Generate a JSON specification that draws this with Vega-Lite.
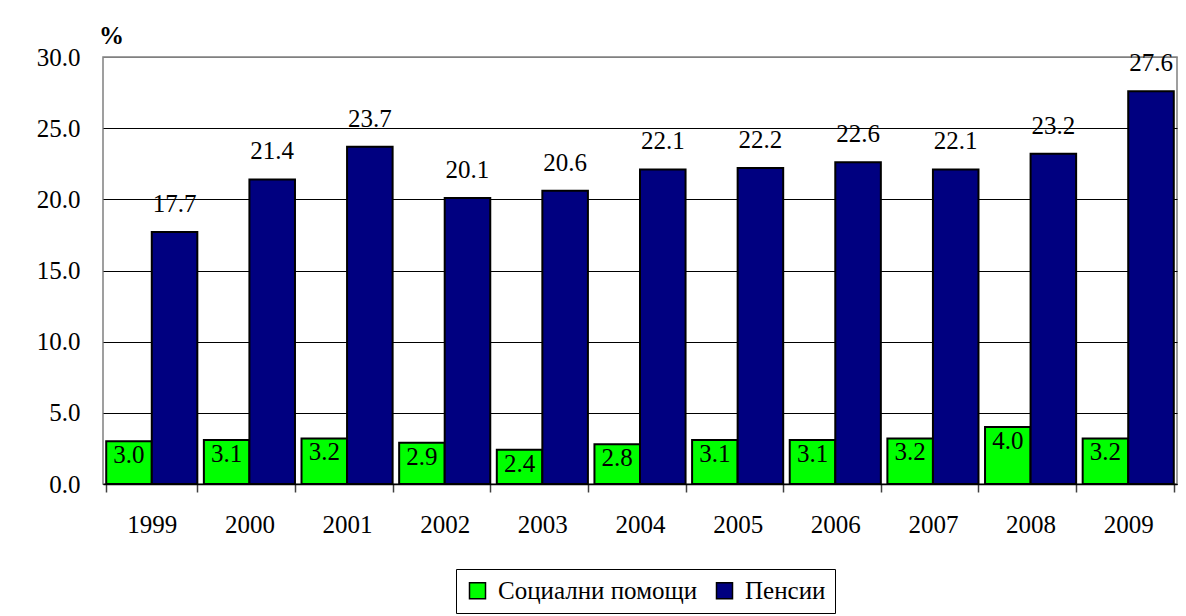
{
  "$schema": "https://vega.github.io/schema/vega-lite/v6.json",
  "autosize": "none",
  "width": 1074,
  "height": 427,
  "padding": {"left": 103, "top": 57, "right": 9, "bottom": 132},
  "background": "white",
  "config": {
    "font": "Times New Roman, Liberation Serif, serif",
    "view": {"stroke": "#808080", "strokeWidth": 1.5},
    "legend": {"strokeColor": "black", "fillColor": "white"}
  },
  "data": {
    "values": [
      {"year": "1999", "series": "Социални помощи", "value": 3.0},
      {"year": "1999", "series": "Пенсии", "value": 17.7},
      {"year": "2000", "series": "Социални помощи", "value": 3.1},
      {"year": "2000", "series": "Пенсии", "value": 21.4},
      {"year": "2001", "series": "Социални помощи", "value": 3.2},
      {"year": "2001", "series": "Пенсии", "value": 23.7},
      {"year": "2002", "series": "Социални помощи", "value": 2.9},
      {"year": "2002", "series": "Пенсии", "value": 20.1},
      {"year": "2003", "series": "Социални помощи", "value": 2.4},
      {"year": "2003", "series": "Пенсии", "value": 20.6},
      {"year": "2004", "series": "Социални помощи", "value": 2.8},
      {"year": "2004", "series": "Пенсии", "value": 22.1},
      {"year": "2005", "series": "Социални помощи", "value": 3.1},
      {"year": "2005", "series": "Пенсии", "value": 22.2},
      {"year": "2006", "series": "Социални помощи", "value": 3.1},
      {"year": "2006", "series": "Пенсии", "value": 22.6},
      {"year": "2007", "series": "Социални помощи", "value": 3.2},
      {"year": "2007", "series": "Пенсии", "value": 22.1},
      {"year": "2008", "series": "Социални помощи", "value": 4.0},
      {"year": "2008", "series": "Пенсии", "value": 23.2},
      {"year": "2009", "series": "Социални помощи", "value": 3.2},
      {"year": "2009", "series": "Пенсии", "value": 27.6}
    ]
  },
  "encoding": {
    "x": {
      "field": "year",
      "type": "nominal",
      "scale": {"paddingInner": 0.067, "paddingOuter": 0.033},
      "axis": {
        "title": null,
        "labelAngle": 0,
        "labelFont": "Times New Roman, Liberation Serif, serif",
        "labelFontSize": 25,
        "labelColor": "black",
        "labelPadding": 20,
        "tickBand": "extent",
        "tickSize": 8,
        "tickColor": "#404040",
        "tickWidth": 1.5,
        "domainColor": "black",
        "domainWidth": 1.5,
        "grid": false
      }
    },
    "xOffset": {
      "field": "series",
      "type": "nominal",
      "sort": ["Социални помощи", "Пенсии"],
      "scale": {"paddingInner": 0, "paddingOuter": 0}
    },
    "y": {
      "field": "value",
      "type": "quantitative",
      "scale": {"domain": [0, 30], "nice": false},
      "axis": {
        "title": "%",
        "titleAngle": 0,
        "titleFont": "Times New Roman, Liberation Serif, serif",
        "titleFontSize": 25,
        "titleFontWeight": "bold",
        "titleX": 8,
        "titleY": -14,
        "titleAlign": "center",
        "titleBaseline": "alphabetic",
        "values": [0, 5, 10, 15, 20, 25, 30],
        "format": ".1f",
        "labelFont": "Times New Roman, Liberation Serif, serif",
        "labelFontSize": 25,
        "labelColor": "black",
        "labelPadding": 23,
        "ticks": false,
        "domain": false,
        "grid": true,
        "gridColor": {"condition": {"test": "datum.value >= 30", "value": "#808080"}, "value": "black"},
        "gridWidth": 1
      }
    }
  },
  "layer": [
    {
      "mark": {"type": "bar", "stroke": "black", "strokeWidth": 2},
      "encoding": {
        "color": {
          "field": "series",
          "type": "nominal",
          "sort": ["Социални помощи", "Пенсии"],
          "scale": {"domain": ["Социални помощи", "Пенсии"], "range": ["#00FF00", "#000080"]},
          "legend": {
            "title": null,
            "orient": "none",
            "legendX": 353,
            "legendY": 512,
            "direction": "horizontal",
            "symbolType": "square",
            "symbolSize": 256,
            "symbolStrokeColor": "black",
            "symbolStrokeWidth": 1.5,
            "symbolOpacity": 1,
            "labelFont": "Times New Roman, Liberation Serif, serif",
            "labelFontSize": 25,
            "labelColor": "black",
            "labelOffset": 8,
            "labelLimit": 400,
            "columnPadding": 14,
            "strokeColor": "black",
            "fillColor": "white",
            "padding": 9
          }
        }
      }
    },
    {
      "transform": [{"filter": "datum.series == 'Пенсии'"}],
      "mark": {"type": "text", "font": "Times New Roman, Liberation Serif, serif", "fontSize": 25, "color": "black", "baseline": "alphabetic", "dy": -20},
      "encoding": {"text": {"field": "value", "type": "quantitative", "format": ".1f"}}
    },
    {
      "transform": [{"filter": "datum.series == 'Социални помощи'"}],
      "mark": {"type": "text", "font": "Times New Roman, Liberation Serif, serif", "fontSize": 25, "color": "black", "baseline": "alphabetic", "dy": 22},
      "encoding": {"text": {"field": "value", "type": "quantitative", "format": ".1f"}}
    }
  ]
}
